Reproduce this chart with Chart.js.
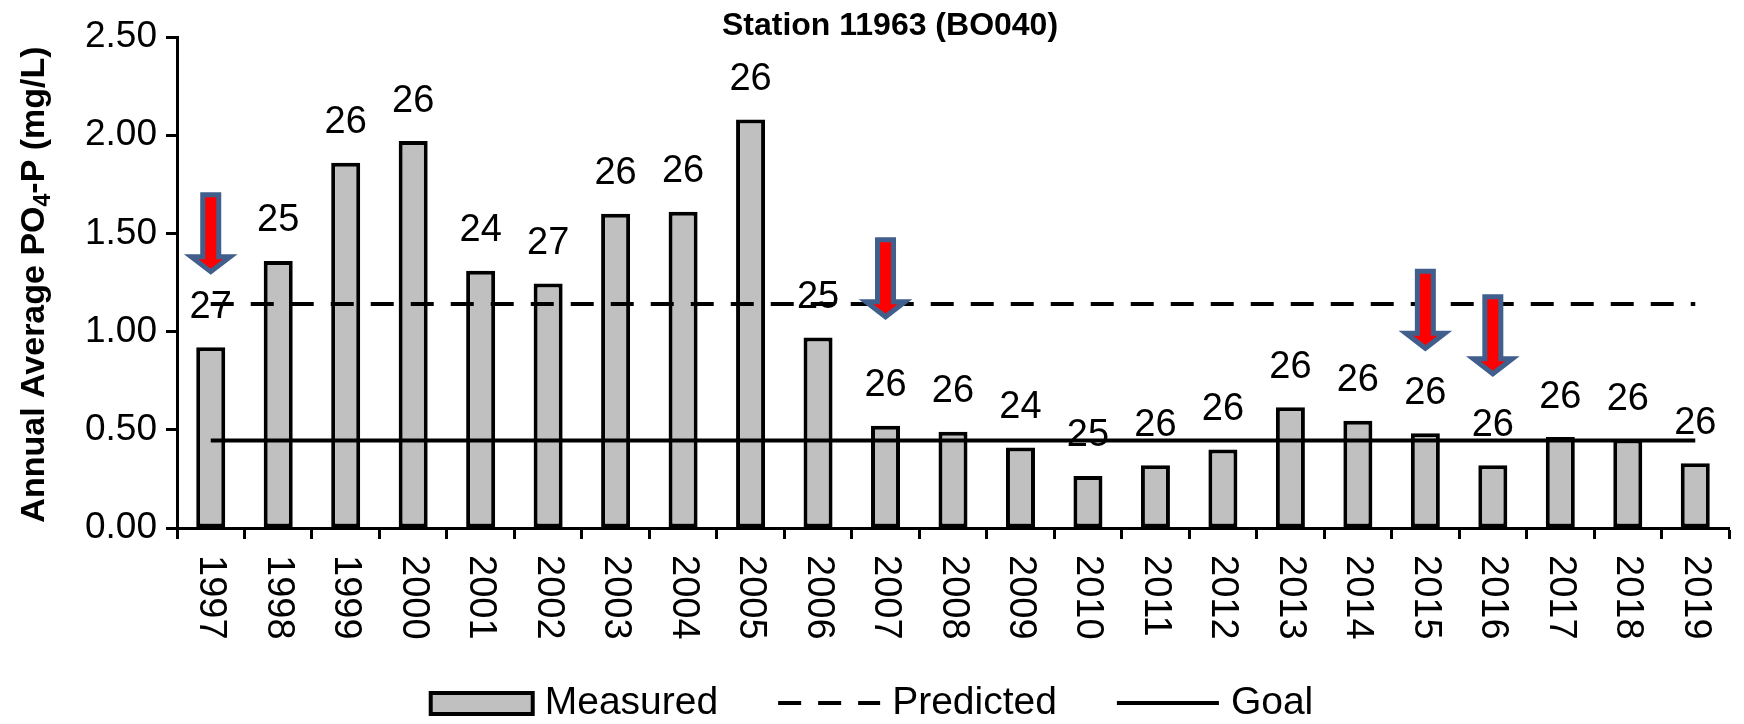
<!DOCTYPE html>
<html>
<head>
<meta charset="utf-8">
<script src="https://cdn.jsdelivr.net/npm/chart.js@4.4.1/dist/chart.umd.min.js"></script>
<style>
  html, body { margin: 0; padding: 0; background: #fff; }
  #wrap { width: 1744px; height: 724px; }
</style>
</head>
<body>
<div id="wrap"><canvas id="myChart" width="1744" height="724"></canvas></div>
<script>
var years = ['1997', '1998', '1999', '2000', '2001', '2002', '2003', '2004', '2005', '2006', '2007', '2008',
             '2009', '2010', '2011', '2012', '2013', '2014', '2015', '2016', '2017', '2018', '2019'];
var measured = [0.92, 1.36, 1.86, 1.97, 1.31, 1.245, 1.60, 1.61, 2.08, 0.97, 0.52, 0.49,
                0.41, 0.265, 0.32, 0.40, 0.615, 0.546, 0.482, 0.32, 0.463, 0.45, 0.33];
var predicted = [1.14, 1.14, 1.14, 1.14, 1.14, 1.14, 1.14, 1.14, 1.14, 1.14, 1.14, 1.14,
                 1.14, 1.14, 1.14, 1.14, 1.14, 1.14, 1.14, 1.14, 1.14, 1.14, 1.14];
var goal = [0.445, 0.445, 0.445, 0.445, 0.445, 0.445, 0.445, 0.445, 0.445, 0.445, 0.445, 0.445,
            0.445, 0.445, 0.445, 0.445, 0.445, 0.445, 0.445, 0.445, 0.445, 0.445, 0.445];
// number of samples per year, printed above the bars
var sampleCounts = [27, 25, 26, 26, 24, 27, 26, 26, 26, 25, 26, 26,
                    24, 25, 26, 26, 26, 26, 26, 26, 26, 26, 26];
// red arrows: year and value at the arrow's top
var arrowYears = ['1997', '2007', '2015', '2016'];
var arrowTops = [1.71, 1.48, 1.32, 1.19];

var FONT = "'Liberation Sans', Arial, sans-serif";

function drawArrow(ctx, cx, top) {
    var t = top + 2.5;
    ctx.beginPath();
    ctx.moveTo(cx - 8, t);
    ctx.lineTo(cx + 8, t);
    ctx.lineTo(cx + 8, t + 62);
    ctx.lineTo(cx + 19.5, t + 62);
    ctx.lineTo(cx, t + 77);
    ctx.lineTo(cx - 19.5, t + 62);
    ctx.lineTo(cx - 8, t + 62);
    ctx.closePath();
    ctx.fillStyle = '#ff0000';
    ctx.fill();
    ctx.lineWidth = 5;
    ctx.lineJoin = 'miter';
    ctx.strokeStyle = '#415f8c';
    ctx.stroke();
}

var decorations = {
    id: 'decorations',
    afterDatasetsDraw: function(chart) {
        var ctx = chart.ctx;
        var x = chart.scales.x, y = chart.scales.y;
        var bars = chart.getDatasetMeta(0).data;
        ctx.save();
        ctx.fillStyle = '#000';
        ctx.font = '38px ' + FONT;
        ctx.textAlign = 'center';
        ctx.textBaseline = 'middle';
        bars.forEach(function(bar, i) {
            ctx.fillText(String(sampleCounts[i]), bar.x, bar.y - 40);
        });
        arrowYears.forEach(function(yr, i) {
            drawArrow(ctx, x.getPixelForTick(years.indexOf(yr)), y.getPixelForValue(arrowTops[i]));
        });
        ctx.restore();
    },
    afterDraw: function(chart) {
        var ctx = chart.ctx;
        var x = chart.scales.x;
        var area = chart.chartArea;
        ctx.save();
        ctx.fillStyle = '#000';

        // year labels, turned clockwise
        ctx.font = '38px ' + FONT;
        ctx.textAlign = 'left';
        ctx.textBaseline = 'middle';
        years.forEach(function(yr, i) {
            ctx.save();
            ctx.translate(x.getPixelForTick(i), area.bottom + 27);
            ctx.rotate(Math.PI / 2);
            ctx.fillText(yr, 0, 0);
            ctx.restore();
        });

        // y axis title with subscript
        var parts = [['Annual Average PO', 'bold 34px ' + FONT, 0],
                     ['4', 'bold 23px ' + FONT, 9],
                     ['-P (mg/L)', 'bold 34px ' + FONT, 0]];
        var total = 0;
        parts.forEach(function(p) { ctx.font = p[1]; total += ctx.measureText(p[0]).width; });
        ctx.save();
        ctx.translate(35, (area.top + area.bottom) / 2 + 2);
        ctx.rotate(-Math.PI / 2);
        var px = -total / 2;
        parts.forEach(function(p) {
            ctx.font = p[1];
            ctx.fillText(p[0], px, p[2]);
            px += ctx.measureText(p[0]).width;
        });
        ctx.restore();

        // title
        ctx.font = 'bold 32px ' + FONT;
        ctx.textAlign = 'center';
        ctx.fillText('Station 11963 (BO040)', 890, 26);

        // legend
        var ly = 703, symW = 102, gap = 12, itemGap = 60;
        ctx.font = '39px ' + FONT;
        ctx.textAlign = 'left';
        var sets = chart.data.datasets;
        var widths = sets.map(function(d) { return symW + gap + ctx.measureText(d.label).width; });
        var lw = widths.reduce(function(a, b) { return a + b; }, 0) + itemGap * (sets.length - 1);
        var lx = chart.width / 2 - lw / 2;
        sets.forEach(function(d, i) {
            if (d.type === 'line') {
                ctx.save();
                ctx.strokeStyle = d.borderColor;
                ctx.lineWidth = d.borderWidth;
                ctx.setLineDash(d.borderDash || []);
                ctx.beginPath();
                ctx.moveTo(lx, ly);
                ctx.lineTo(lx + symW, ly);
                ctx.stroke();
                ctx.restore();
            } else {
                ctx.fillStyle = d.backgroundColor;
                ctx.fillRect(lx, ly - 10, symW, 21);
                ctx.lineWidth = 4;
                ctx.strokeStyle = d.borderColor;
                ctx.strokeRect(lx, ly - 10, symW, 21);
            }
            ctx.fillStyle = '#000';
            ctx.fillText(d.label, lx + symW + gap, ly);
            lx += widths[i] + itemGap;
        });
        ctx.restore();
    }
};

var ctx = document.getElementById('myChart').getContext('2d');
var myChart = new Chart(ctx, {
    type: 'bar',
    data: {
        labels: years,
        datasets: [{
            type: 'bar',
            label: 'Measured',
            data: measured,
            backgroundColor: '#c0c0c0',
            borderColor: '#000000',
            borderWidth: 4,
            borderSkipped: false,
            barPercentage: 0.43,
            categoryPercentage: 1.0,
            order: 2
        },
        {
            type: 'line',
            label: 'Predicted',
            data: predicted,
            borderColor: '#000000',
            borderWidth: 4,
            borderDash: [23, 17],
            pointRadius: 0,
            fill: false,
            order: 1
        },
        {
            type: 'line',
            label: 'Goal',
            data: goal,
            borderColor: '#000000',
            borderWidth: 4,
            pointRadius: 0,
            fill: false,
            order: 0
        }]
    },
    options: {
        responsive: false,
        animation: false,
        layout: {
            padding: { top: 37, right: 15, bottom: 0, left: 0 }
        },
        plugins: {
            legend: { display: false },
            title: { display: false },
            tooltip: { enabled: false }
        },
        scales: {
            x: {
                offset: true,
                grid: {
                    offset: true,
                    drawOnChartArea: false,
                    tickLength: 11,
                    tickWidth: 3,
                    tickColor: '#000'
                },
                border: { color: '#000', width: 3 },
                ticks: { display: false },
                afterFit: function(s) {
                    s.height = 196;
                    s.paddingLeft = 0;
                    s.paddingRight = 0;
                }
            },
            y: {
                min: 0,
                max: 2.5,
                grid: {
                    drawOnChartArea: false,
                    tickLength: 11,
                    tickWidth: 3,
                    tickColor: '#000'
                },
                border: { color: '#000', width: 3 },
                ticks: {
                    stepSize: 0.5,
                    color: '#000',
                    padding: 9,
                    font: { size: 37, family: FONT },
                    callback: function(v) { return v.toFixed(2); }
                },
                afterFit: function(s) {
                    s.width = 177;
                    s.paddingTop = 0;
                    s.paddingBottom = 0;
                }
            }
        }
    },
    plugins: [decorations]
});
</script>
</body>
</html>
